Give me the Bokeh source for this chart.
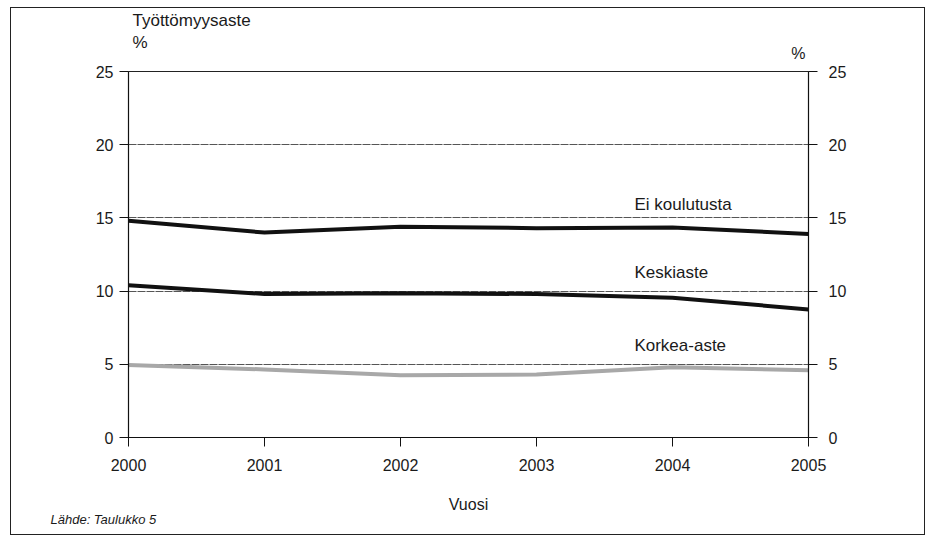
from bokeh.plotting import figure
from bokeh.models import (LinearAxis, Range1d, FixedTicker, Label, Title,
                          BasicTickFormatter)
from bokeh.embed import file_html
from bokeh.resources import INLINE

# ---- data ----
years = [2000, 2001, 2002, 2003, 2004, 2005]
ei_koulutusta = [14.8, 14.0, 14.4, 14.3, 14.35, 13.9]
keskiaste = [10.4, 9.8, 9.85, 9.8, 9.55, 8.75]
korkea_aste = [4.95, 4.65, 4.25, 4.3, 4.8, 4.6]
series_names = ["Ei koulutusta", "Keskiaste", "Korkea-aste"]
y_ticks = [0, 5, 10, 15, 20, 25]
x_ticks = years

FONT = "Liberation Sans"
TXT = "#1a1a1a"

p = figure(width=915, height=528, output_backend="svg", toolbar_location=None,
           x_range=Range1d(2000, 2005), y_range=Range1d(0, 25),
           min_border_left=117, min_border_right=118, min_border_top=63,
           min_border_bottom=99, x_axis_location=None, y_axis_location=None,
           background_fill_color="white", border_fill_color="white",
           outline_line_color="#222222", outline_line_width=1)
p.styles = {"border": "1px solid #222", "margin": "7px 0 0 10px"}

# grid
p.xgrid.grid_line_color = None
p.ygrid.ticker = FixedTicker(ticks=y_ticks)
p.ygrid.grid_line_color = "#555555"
p.ygrid.grid_line_width = 1
p.ygrid.grid_line_dash = "8 1"


def style_axis(ax):
    ax.axis_line_color = "#111111"
    ax.axis_line_width = 1.2
    ax.major_tick_line_color = "#111111"
    ax.major_tick_out = 9
    ax.major_tick_in = 0
    ax.minor_tick_line_color = None
    ax.major_label_text_font = FONT
    ax.major_label_text_font_size = "16px"
    ax.major_label_text_color = TXT


left = LinearAxis(ticker=FixedTicker(ticks=y_ticks))
style_axis(left)
left.major_label_standoff = 6
p.add_layout(left, "left")

right = LinearAxis(ticker=FixedTicker(ticks=y_ticks))
style_axis(right)
right.major_label_standoff = 11
p.add_layout(right, "right")

bottom = LinearAxis(ticker=FixedTicker(ticks=x_ticks),
                    formatter=BasicTickFormatter(use_scientific=False))
style_axis(bottom)
bottom.major_label_standoff = 12
bottom.axis_label = "Vuosi"
bottom.axis_label_text_font = FONT
bottom.axis_label_text_font_size = "16px"
bottom.axis_label_text_font_style = "normal"
bottom.axis_label_text_color = TXT
bottom.axis_label_standoff = 22
p.add_layout(bottom, "below")

# source note below
p.add_layout(Title(text="Lähde: Taulukko 5", align="left", offset=-78,
                   text_font=FONT, text_font_size="13px",
                   text_font_style="italic", text_color=TXT, standoff=-11), "below")

# axis titles above (first added = closest to the frame)
p.add_layout(Title(text="%", align="right", offset=3, text_font=FONT,
                   text_font_size="16px", text_font_style="normal",
                   text_color=TXT, standoff=19), "above")
p.add_layout(Title(text="Työttömyysaste\n%", align="left", offset=4,
                   text_font=FONT, text_font_size="17px",
                   text_font_style="normal", text_line_height=1.2,
                   text_color=TXT, standoff=-38), "above")

# lines
p.line(years, ei_koulutusta, line_color="#111111", line_width=4)
p.line(years, keskiaste, line_color="#111111", line_width=4)
p.line(years, korkea_aste, line_color="#a8a8a8", line_width=4)

# series labels
for name, yv in zip(series_names, [15.9, 11.3, 6.3]):
    p.add_layout(Label(x=2003.72, y=yv, text=name, text_align="left",
                       text_baseline="middle", text_font=FONT,
                       text_font_size="17px", text_color=TXT))

open("out.html", "w").write(file_html(p, INLINE))
